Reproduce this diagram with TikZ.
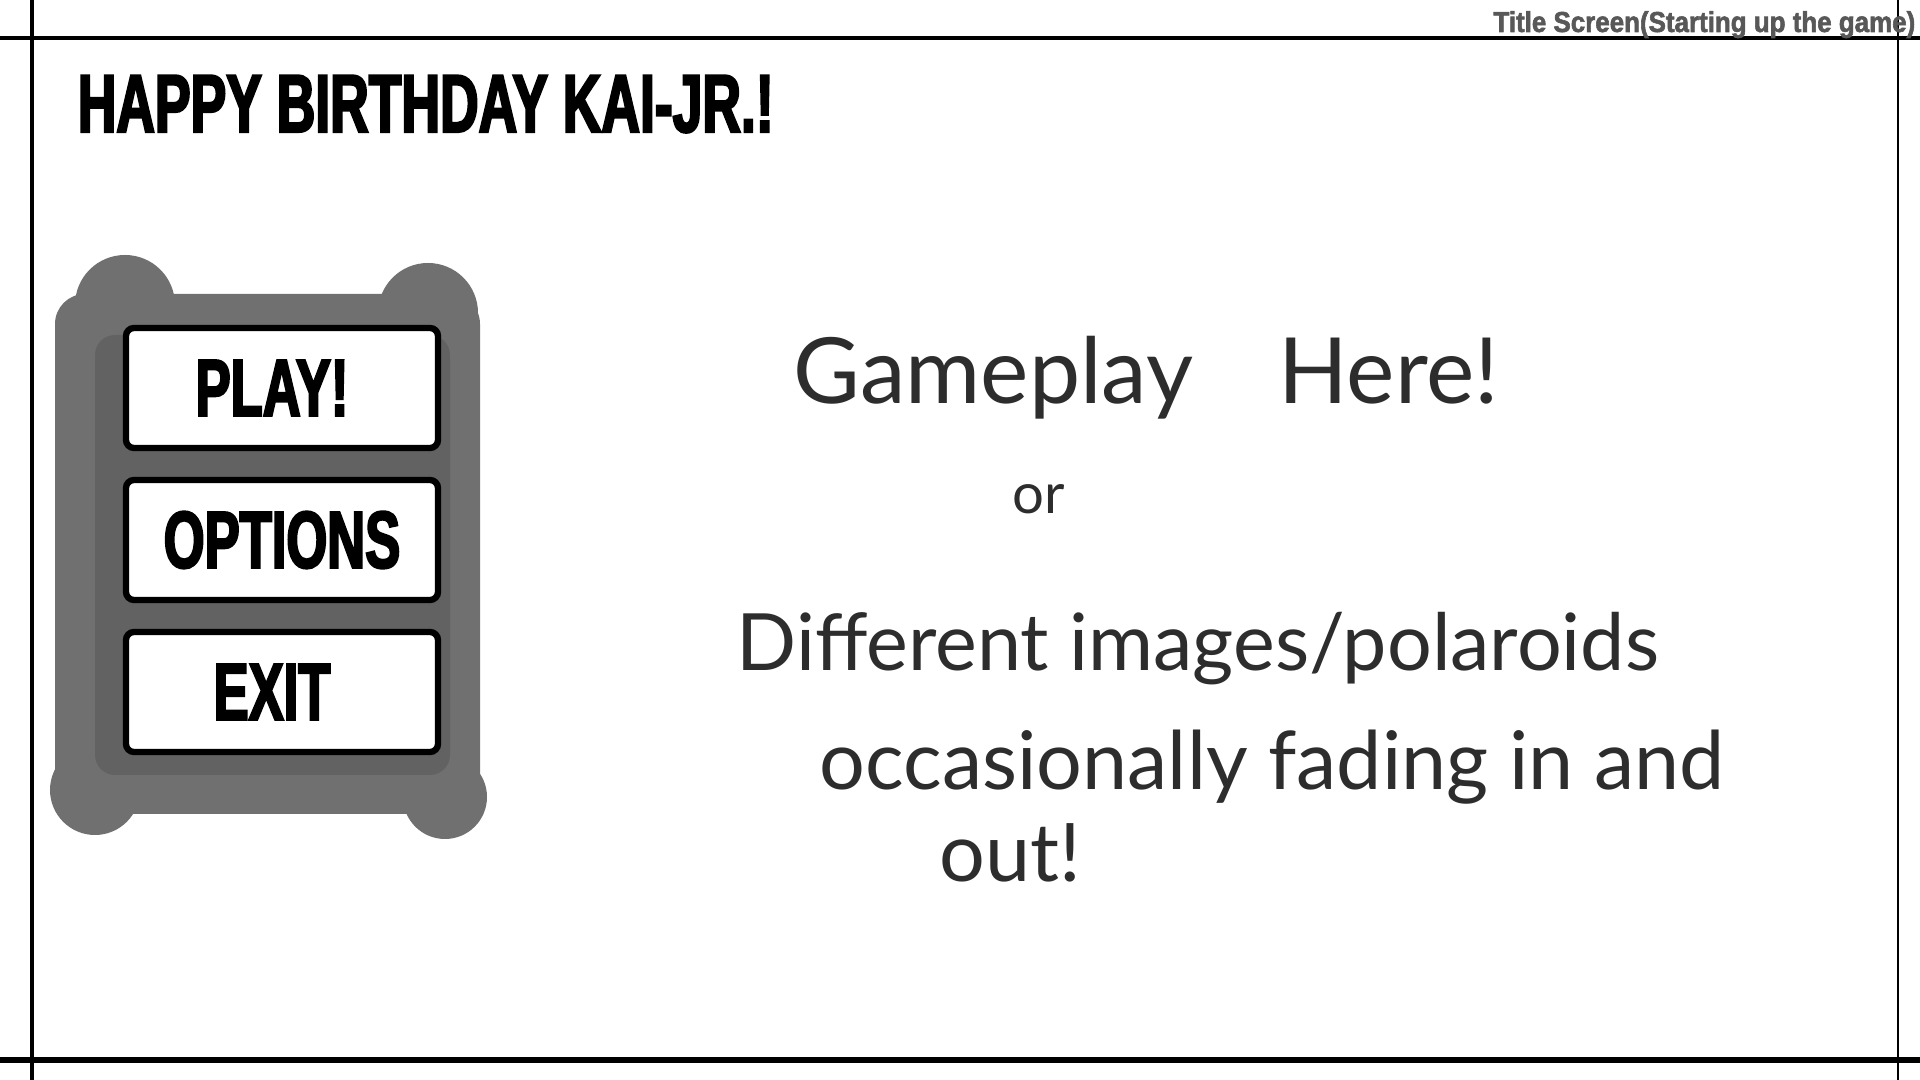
\documentclass[tikz,border=0pt]{standalone}
\usepackage{fontspec}
\usepackage{tikz}
\usetikzlibrary{positioning}
\newfontfamily\impactfont{Liberation Sans Bold}[FakeStretch=0.65,FakeBold=2.6]
\newfontfamily\labelfont{Liberation Sans Bold}[FakeStretch=0.9,FakeBold=2]
\newfontfamily\handfont{Lato}
\definecolor{panelgray}{RGB}{112,112,112}
\definecolor{inkgray}{RGB}{45,45,45}
\definecolor{titlegray}{RGB}{88,88,88}

\begin{document}
\begin{tikzpicture}[
            node distance=0.32cm,
            button/.style={draw, line width=1.8pt, fill=white, rounded corners=0.08cm,
                minimum width=3.12cm, minimum height=1.2cm, inner sep=0pt, outer sep=0pt,
                font=\impactfont\fontsize{23}{23}\selectfont},
            hand/.style={inkgray, anchor=base west, inner sep=0pt,
                font=\handfont\fontsize{23}{26}\selectfont},
            line width=1pt
        ]
            \useasboundingbox (0,0) rectangle (19.2,10.8);
            \fill[white] (0,0) rectangle (19.2,10.8);
            \draw (0,10.42) -- (19.2,10.42);
            \draw[line width=1.2pt] (0.32,0) -- (0.32,10.8);
            \draw[line width=1.5pt] (0,0.2) -- (19.2,0.2);
            \draw[line width=0.7pt] (18.98,0) -- (18.98,10.8);
            \fill[panelgray, rounded corners=0.3cm] (0.55,2.66) rectangle (4.8,7.86);
            \fill[panelgray] (1.25,7.75) circle (0.5);
            \fill[panelgray] (4.28,7.67) circle (0.5);
            \fill[panelgray] (0.95,2.9) circle (0.45);
            \fill[panelgray] (4.45,2.83) circle (0.42);
            \fill[black, opacity=0.12, rounded corners=0.2cm] (0.95,3.05) rectangle (4.5,7.45);
            \node[button] (play) at (2.82,6.92) {PLAY!\hspace*{0.2cm}};
            \node[button, below=of play] (options) {OPTIONS};
            \node[button, below=of options] (exit) {EXIT\hspace*{0.2cm}};
            \node[anchor=base west, inner sep=0pt, font=\impactfont\fontsize{23.4}{24}\selectfont] (head) at (0.76,9.48) {HAPPY BIRTHDAY KAI-JR.!};
            \node[anchor=base east, inner sep=0pt, titlegray, font=\labelfont\fontsize{8.2}{9}\selectfont] (title) at (19.17,10.48) {Title Screen(Starting up the game)};
            \node[hand, font=\handfont\fontsize{26}{30}\selectfont] (game) at (7.92,6.76) {Gameplay\hspace{0.85cm}Here!};
            \node[hand, font=\handfont\fontsize{16}{18}\selectfont] (or) at (10.11,5.66) {or};
            \node[hand, font=\handfont\fontsize{22.5}{26}\selectfont] (diff) at (7.35,4.09) {Different images/polaroids};
            \node[hand] (occ) at (8.18,2.9) {occasionally fading in and};
            \node[hand] (out) at (9.38,1.98) {out!};
        \end{tikzpicture}
\end{document}
